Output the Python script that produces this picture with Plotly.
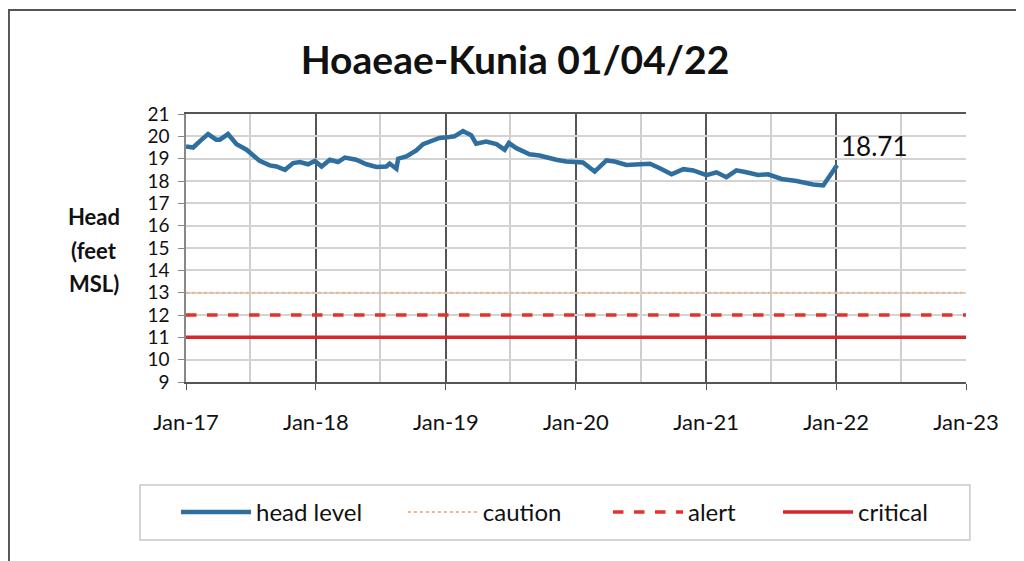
import plotly.graph_objects as go

# head level readings
head_dates = [
    "2017-01-01", "2017-01-21", "2017-02-10", "2017-03-04", "2017-03-27", "2017-04-06",
    "2017-04-29", "2017-05-23", "2017-06-20", "2017-07-27", "2017-08-24", "2017-09-12",
    "2017-10-06", "2017-10-29", "2017-11-17", "2017-12-10", "2017-12-29", "2018-01-17",
    "2018-02-09", "2018-03-04", "2018-03-23", "2018-04-24", "2018-05-23", "2018-06-20",
    "2018-07-18", "2018-07-27", "2018-08-15", "2018-08-20", "2018-09-12", "2018-10-10",
    "2018-10-29", "2018-11-26", "2018-12-14", "2019-01-11", "2019-01-25", "2019-02-18",
    "2019-03-13", "2019-03-27", "2019-04-24", "2019-05-23", "2019-06-15", "2019-06-27",
    "2019-07-18", "2019-08-24", "2019-09-21", "2019-11-07", "2019-12-05", "2020-01-21",
    "2020-02-23", "2020-03-27", "2020-04-19", "2020-05-22", "2020-06-28", "2020-07-27",
    "2020-08-24", "2020-09-26", "2020-10-29", "2020-11-26", "2021-01-02", "2021-01-30",
    "2021-02-27", "2021-03-27", "2021-04-24", "2021-05-27", "2021-06-24", "2021-08-01",
    "2021-09-12", "2021-10-29", "2021-11-26", "2022-01-04",
]
head_level = [
    19.55, 19.50, 19.80, 20.10, 19.85, 19.85,
    20.10, 19.65, 19.40, 18.90, 18.70, 18.65,
    18.50, 18.80, 18.85, 18.75, 18.90, 18.65,
    18.95, 18.85, 19.05, 18.95, 18.75, 18.63,
    18.65, 18.78, 18.55, 19.00, 19.10, 19.37,
    19.65, 19.80, 19.93, 19.97, 20.00, 20.24,
    20.05, 19.67, 19.77, 19.65, 19.40, 19.70,
    19.47, 19.20, 19.14, 18.95, 18.87, 18.83,
    18.42, 18.92, 18.87, 18.72, 18.77, 18.77,
    18.57, 18.30, 18.53, 18.47, 18.26, 18.39,
    18.17, 18.48, 18.39, 18.27, 18.30, 18.09,
    18.00, 17.84, 17.80, 18.71,
]

limit_dates = ["2017-01-01", "2023-01-01"]
caution = [13, 13]
alert = [12, 12]
critical = [11, 11]

y_ticks = list(range(9, 22))
x_ticks = ["2017-01-01", "2018-01-01", "2019-01-01", "2020-01-01",
           "2021-01-01", "2022-01-01", "2023-01-01"]
x_tick_labels = ["Jan-17", "Jan-18", "Jan-19", "Jan-20", "Jan-21", "Jan-22", "Jan-23"]

FONT = "Lato"

fig = go.Figure()
fig.add_trace(go.Scatter(x=head_dates, y=head_level, mode="lines", name="head level",
                         line=dict(color="#2f6f9f", width=4.5), legend="legend"))
fig.add_trace(go.Scatter(x=limit_dates, y=caution, mode="lines", name="caution",
                         line=dict(color="#f2b48a", width=2, dash="dot"), legend="legend2"))
fig.add_trace(go.Scatter(x=limit_dates, y=alert, mode="lines", name="alert",
                         line=dict(color="#e2332b", width=3.5, dash="dash"), legend="legend3"))
fig.add_trace(go.Scatter(x=limit_dates, y=critical, mode="lines", name="critical",
                         line=dict(color="#d8262a", width=3.5), legend="legend4"))

# last value label
fig.add_annotation(x=head_dates[-1], y=head_level[-1], text=f"{head_level[-1]:.2f}",
                   showarrow=False, xanchor="left", yanchor="middle", xshift=2, yshift=19,
                   font=dict(family=FONT, size=26, color="#111"))

# y axis title, one word per line
for i, word in enumerate(["Head", "(feet", "MSL)"]):
    fig.add_annotation(xref="paper", yref="paper", x=-0.118, y=0.616 - i * 0.1235,
                       text=f"<b>{word}</b>", showarrow=False, xanchor="center",
                       font=dict(family=FONT, size=22, color="#111"))

# scan frame (top and left edge) and legend box
fig.add_shape(type="path", xref="paper", yref="paper",
              path="M -0.227 -0.7 L -0.227 1.388 L 1.08 1.388",
              line=dict(color="#555", width=2))
fig.add_shape(type="rect", xref="paper", yref="paper",
              x0=-0.059, x1=1.005, y0=-0.59, y1=-0.384,
              line=dict(color="#c8c8c8", width=1.5), fillcolor="rgba(0,0,0,0)")

# one legend per entry so the spacing can follow the reference
legend_style = dict(orientation="h", xanchor="left", y=-0.487, yanchor="middle",
                    itemwidth=70, borderwidth=0, bgcolor="rgba(0,0,0,0)",
                    font=dict(family=FONT, size=24, color="#111"))
legend_x = [-0.0128, 0.278, 0.541, 0.759]

fig.update_layout(
    width=1016, height=553,
    margin=dict(l=178, r=58, t=106, b=179, autoexpand=False),
    paper_bgcolor="white", plot_bgcolor="white",
    font=dict(family=FONT, color="#111"),
    title=dict(text="<b>Hoaeae-Kunia 01/04/22</b>", x=0.499, xanchor="center",
               y=0.906, yanchor="middle", font=dict(family=FONT, size=39, color="#111")),
    showlegend=True,
    legend=dict(x=legend_x[0], **legend_style),
    legend2=dict(x=legend_x[1], **legend_style),
    legend3=dict(x=legend_x[2], **legend_style),
    legend4=dict(x=legend_x[3], **legend_style),
)

fig.update_xaxes(
    type="date", range=[limit_dates[0], limit_dates[1]],
    tickvals=x_ticks, ticktext=x_tick_labels,
    tickfont=dict(family=FONT, size=22, color="#111"),
    ticks="outside", ticklen=6, tickcolor="#555", ticklabelstandoff=14,
    showgrid=True, gridcolor="#555", gridwidth=1.5,
    minor=dict(dtick="M6", tick0="2017-01-01", showgrid=True, gridcolor="#cfcfcf", gridwidth=1.5),
    showline=True, linecolor="#555", linewidth=2, mirror=True,
    zeroline=False,
)
fig.update_yaxes(
    range=[9, 21], tickvals=y_ticks,
    tickfont=dict(family=FONT, size=19, color="#111"),
    ticks="outside", ticklen=6, tickcolor="#888", ticklabelstandoff=5,
    showgrid=True, gridcolor="#d3d3d3", gridwidth=1.5,
    showline=True, linecolor="#888", linewidth=1.5,
    zeroline=False,
)

fig.write_html("out.html")
